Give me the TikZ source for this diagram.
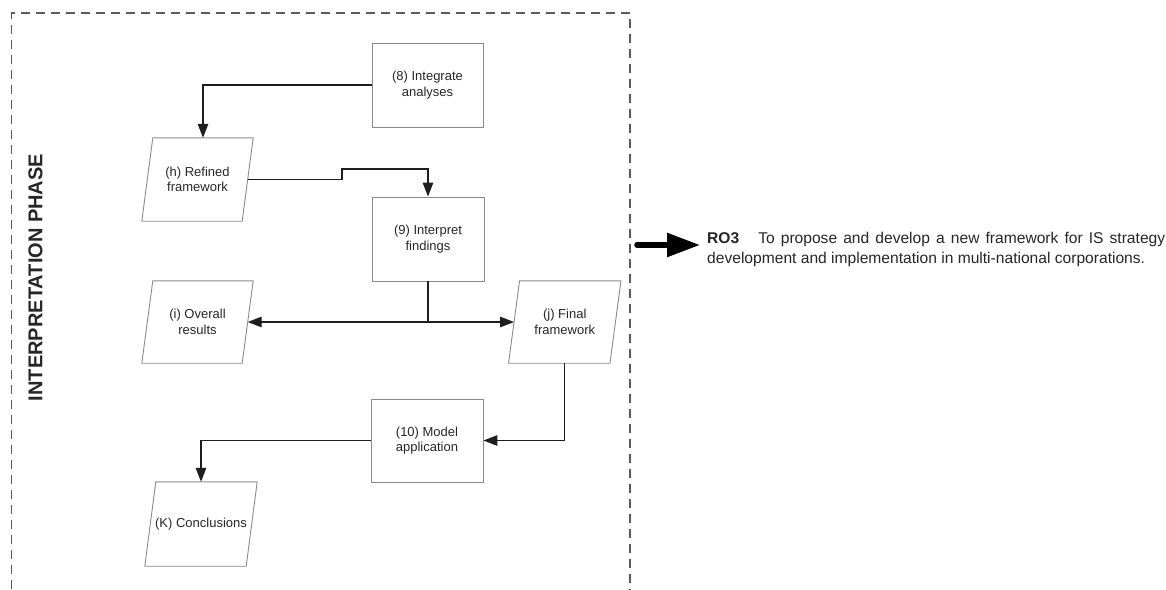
\documentclass[tikz,border=0pt]{standalone}
\usepackage{fontspec}
\setmainfont{Liberation Sans}
\usetikzlibrary{arrows.meta,calc}
\definecolor{boxgray}{HTML}{8A8A8A}
\definecolor{txtcol}{HTML}{262626}
\definecolor{dashcol}{HTML}{5A5A5A}
\definecolor{lncol}{HTML}{1E1E1E}
\newcommand\ndfont{\fontsize{13}{15.5}\selectfont}
\newcommand\rofont{\fontsize{15.6}{20}\selectfont}
\newcommand\drawpara[2]{\draw[draw=boxgray, line width=0.9pt] ([xshift=#2]#1.north west) -- ([xshift=#2]#1.north east) -- ([xshift=-#2]#1.south east) -- ([xshift=-#2]#1.south west) -- cycle;}
\begin{document}
\begin{tikzpicture}[x=1pt,y=-1pt,
  box/.style={draw=boxgray, line width=0.9pt, minimum width=112pt, minimum height=84pt, inner sep=0pt, align=center, font=\ndfont, text=txtcol},
  para/.style={minimum width=100pt, minimum height=83pt, inner sep=0pt, align=center, font=\ndfont, text=txtcol},
  conn/.style={line width=1.4pt, draw=lncol},
  arr/.style={conn, -{Triangle[length=14pt,width=10.5pt]}},
  border/.style={draw=dashcol, line width=1.4pt, dash pattern=on 9pt off 6pt},
  bigarrow/.style={draw=black, line width=5.5pt, line cap=round, -{Triangle[length=33pt,width=23pt]}}
]
\useasboundingbox (0,0) rectangle (1166,589);

% dashed phase border (open at bottom)
\draw[border] (11.5,589) -- (11.5,13) -- (630,13) -- (630,589);

% phase label
\node[rotate=90, font=\bfseries\fontsize{20}{24}\selectfont, text=txtcol] (phase) at (35.5,277.5) {INTERPRETATION PHASE};

% process boxes
\node[box, minimum width=111pt] (b8) at (427.5,85) {(8) Integrate\\analyses};
\node[box] (b9) at (428,239) {(9) Interpret\\findings};
\node[box, minimum height=83pt] (b10) at (427,440.5) {(10) Model\\application};

% data parallelograms
\node[para] (h) at (197.5,179.5) {(h) Refined\\framework};
\node[para, minimum height=82pt] (i) at (197.5,322) {(i) Overall\\results};
\node[para, minimum width=101pt, minimum height=82pt] (j) at (564.75,322) {(j) Final\\framework};
\node[para, minimum width=101pt, minimum height=84pt] (k) at (201,524) {(K) Conclusions};
\drawpara{h}{5.5pt}
\drawpara{i}{5.5pt}
\drawpara{j}{5.5pt}
\drawpara{k}{5.5pt}

% connectors
\draw[arr] (b8.west) -| ([xshift=5.5pt]h.north);
\coordinate (hk) at (342,169);
\draw[arr] (h.east) -- (h.east -| hk) -- (hk) -| (b9.north);
\coordinate (split) at (b9.south |- i.east);
\draw[conn] (b9.south) -- (split);
\draw[arr] (split) -- (i.east);
\draw[arr] (split) -- (j.west);
\draw[arr] (j.south) |- (b10.east);
\draw[arr] (b10.west) -| (k.north);

% research objective
\node[anchor=base west, inner sep=0pt, font=\rofont, text=txtcol] (ro1) at (707,243)
  {\makebox[458pt][s]{\textbf{RO3}\hspace{19pt}To propose and develop a new framework for IS strategy}};
\node[anchor=base west, inner sep=0pt, font=\rofont, text=txtcol] (ro2) at (707,263)
  {development and implementation in multi-national corporations.};
\coordinate (bigs) at (637,245);
\draw[bigarrow] (bigs) -- ([xshift=-7pt]ro1.west |- bigs);
\end{tikzpicture}
\end{document}
